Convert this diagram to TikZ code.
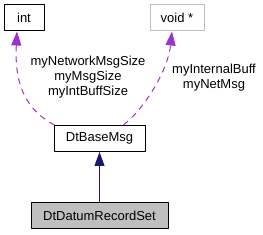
\documentclass[tikz,border=0pt]{standalone}
\usepackage{fontspec}
\setmainfont{Liberation Sans}
\usetikzlibrary{arrows.meta}
\definecolor{edgepurple}{HTML}{9A32CD}
\definecolor{navy}{HTML}{191970}
\definecolor{boxgray}{HTML}{BFBFBF}
\tikzset{
  cls/.style={draw=black, line width=1pt, minimum height=26pt, inner sep=0pt, font=\fontsize{13}{15}\selectfont},
  usage/.style={draw=edgepurple, line width=1pt, dash pattern=on 6pt off 5pt, -{Triangle[length=14pt,width=10pt,fill=edgepurple]}},
  inherit/.style={draw=navy, line width=1pt, -{Triangle[length=14pt,width=10pt,fill=navy]}},
  lbl/.style={align=center, inner sep=0pt, font=\fontsize{13}{15}\selectfont}
}
\begin{document}
\begin{tikzpicture}[x=1pt, y=-1pt, line join=round]
				\useasboundingbox (0,0) rectangle (263,235);
				\node[cls, minimum width=40pt] (int) at (24,18) {int};
				\node[cls, draw=boxgray, minimum width=54pt] (void) at (177,18) {void *};
				\node[cls, minimum width=91pt] (base) at (99.5,138.5) {DtBaseMsg};
				\node[cls, fill=boxgray, minimum width=137pt] (rec) at (99.5,215.5) {DtDatumRecordSet};
				% member labels
				\node[lbl] (intlbl) at (88,77) {myNetworkMsgSize\\myMsgSize\\myIntBuffSize};
				\node[lbl] (voidlbl) at (214,78) {myInternalBuff\\myNetMsg};
				\draw[inherit] (rec.north) -- (base.south);
				\draw[usage] ([xshift=1pt]base.north west) .. controls (30,112) and (14,90) .. ([xshift=-7pt]int.south);
				\draw[usage] ([xshift=-22pt]base.north east) .. controls (145,108) and (168,70) .. ([xshift=-5pt]void.south);
\end{tikzpicture}
\end{document}
